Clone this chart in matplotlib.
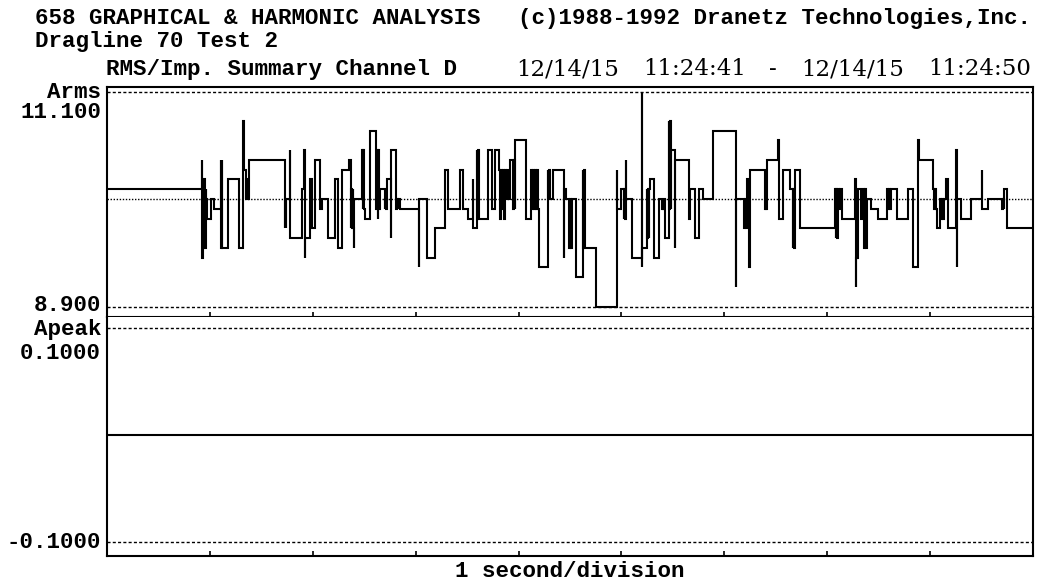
import matplotlib
matplotlib.use('Agg')
import matplotlib.pyplot as plt

W, H = 1037, 582

# ---------------- data ----------------
# RMS current (Arms): start time of each step (s) and its value
rms_t = [0.000, 0.919, 0.924, 0.929, 0.937, 0.945, 0.951, 0.958, 0.961, 0.968,
         1.010, 1.042, 1.104, 1.110, 1.115, 1.119, 1.172, 1.284, 1.323, 1.327,
         1.347, 1.352, 1.359, 1.366, 1.372, 1.379, 1.728, 1.733, 1.738, 1.743,
         1.777, 1.780, 1.896, 1.919, 1.922, 1.925, 1.971, 1.993, 2.026, 2.075,
         2.094, 2.149, 2.214, 2.246, 2.284, 2.350, 2.369, 2.376, 2.382, 2.388,
         2.395, 2.401, 2.405, 2.479, 2.485, 2.492, 2.498, 2.512, 2.560, 2.612,
         2.618, 2.624, 2.631, 2.638, 2.644, 2.650, 2.699, 2.706, 2.712, 2.725,
         2.757, 2.762, 2.813, 2.818, 2.825, 2.832, 2.845, 3.029, 3.032, 3.114,
         3.187, 3.284, 3.317, 3.427, 3.459, 3.508, 3.556, 3.560, 3.592, 3.599,
         3.605, 3.612, 3.702, 3.741, 3.774, 3.806, 3.816, 3.825, 3.835, 3.845,
         3.854, 3.864, 3.874, 3.883, 3.896, 3.916, 3.949, 3.954, 3.961, 3.968,
         4.068, 4.117, 4.126, 4.136, 4.146, 4.155, 4.170, 4.180, 4.189, 4.197,
         4.284, 4.291, 4.298, 4.304, 4.333, 4.437, 4.440, 4.463, 4.495, 4.502,
         4.508, 4.515, 4.560, 4.624, 4.631, 4.638, 4.644, 4.754, 4.954, 4.958,
         4.997, 5.022, 5.029, 5.036, 5.046, 5.049, 5.100, 5.197, 5.201, 5.204,
         5.246, 5.252, 5.259, 5.265, 5.272, 5.279, 5.314, 5.362, 5.395, 5.401,
         5.408, 5.415, 5.420, 5.427, 5.459, 5.466, 5.473, 5.479, 5.485, 5.518,
         5.521, 5.660, 5.663, 5.718, 5.750, 5.796, 5.886, 6.114, 6.117, 6.194,
         6.201, 6.207, 6.217, 6.243, 6.246, 6.395, 6.401, 6.408, 6.411, 6.524,
         6.527, 6.566, 6.638, 6.663, 6.670, 6.677, 6.683, 6.686, 6.738, 7.078,
         7.084, 7.090, 7.094, 7.107, 7.117, 7.126, 7.139, 7.272, 7.275, 7.278,
         7.285, 7.291, 7.298, 7.327, 7.350, 7.359, 7.369, 7.379, 7.391, 7.424,
         7.498, 7.585, 7.592, 7.602, 7.612, 7.618, 7.683, 7.789, 7.835, 7.886,
         7.890, 8.029, 8.039, 8.049, 8.058, 8.065, 8.097, 8.107, 8.117, 8.126,
         8.136, 8.152, 8.178, 8.255, 8.259, 8.262, 8.304, 8.395, 8.502, 8.505,
         8.566, 8.702, 8.709, 8.715, 8.718, 8.750]
rms_v = [10.1, 10.4, 9.4, 10.2, 9.5, 10.2, 9.5, 10.1, 10.0, 9.8,
         10.0, 9.9, 10.4, 9.5, 10.4, 9.5, 10.2, 9.5, 10.8, 10.3,
         10.0, 10.2, 10.0, 10.2, 10.0, 10.4, 9.7, 10.0, 9.7, 10.0,
         10.5, 9.6, 10.1, 10.5, 9.4, 9.6, 10.2, 9.7, 10.4, 9.9,
         10.0, 9.6, 10.2, 9.5, 10.3, 10.4, 9.7, 10.1, 9.7, 10.1,
         9.7, 9.5, 10.0, 10.5, 9.9, 10.5, 9.9, 9.8, 10.7, 10.5,
         9.9, 10.5, 9.8, 10.5, 9.9, 10.1, 9.9, 10.0, 9.9, 10.2,
         9.6, 10.5, 9.9, 10.0, 9.9, 10.0, 9.9, 9.3, 10.0, 9.4,
         9.7, 10.3, 9.9, 10.3, 9.9, 9.8, 10.2, 9.7, 10.5, 9.8,
         10.5, 9.8, 10.5, 9.9, 10.5, 10.3, 9.8, 10.3, 9.9, 10.3,
         9.8, 10.3, 10.0, 10.3, 10.0, 10.4, 9.9, 10.4, 9.9, 10.6,
         9.8, 10.3, 9.9, 10.3, 9.9, 10.3, 9.9, 10.3, 9.9, 9.3,
         10.3, 10.0, 10.3, 10.0, 10.3, 9.4, 10.1, 10.0, 9.5, 10.0,
         9.5, 10.0, 9.2, 10.3, 9.5, 10.3, 9.5, 8.9, 10.3, 9.9,
         10.1, 9.8, 10.1, 9.8, 10.4, 10.0, 9.4, 11.1, 9.3, 9.5,
         10.1, 9.6, 10.1, 9.6, 10.1, 10.2, 9.4, 10.0, 9.9, 10.0,
         9.9, 10.0, 9.9, 9.6, 10.8, 9.9, 10.8, 9.9, 10.5, 9.5,
         10.4, 9.8, 10.1, 9.6, 10.1, 10.0, 10.7, 9.1, 10.0, 9.7,
         10.0, 9.7, 10.2, 9.3, 10.3, 9.9, 10.3, 9.9, 10.4, 10.6,
         9.8, 10.3, 10.1, 9.5, 10.1, 9.5, 10.1, 10.3, 9.7, 10.1,
         9.6, 10.1, 9.6, 10.1, 9.9, 10.1, 9.8, 10.2, 9.1, 9.4,
         10.1, 9.4, 10.1, 9.8, 10.1, 9.5, 10.1, 9.5, 10.0, 9.9,
         9.8, 10.1, 9.9, 10.1, 9.9, 10.1, 9.8, 10.1, 9.3, 10.6,
         10.4, 10.1, 9.9, 10.1, 9.9, 9.7, 10.0, 9.8, 10.0, 9.8,
         10.0, 10.2, 9.7, 10.5, 9.3, 10.0, 9.8, 10.0, 10.3, 9.9,
         10.0, 9.9, 10.0, 9.9, 10.1, 9.7]
t_end = 9.0

# Peak current (Apeak): flat at zero for the whole window
apeak_t = [0.0, 9.0]
apeak_v = [0.0, 0.0]

rms_low, rms_mid, rms_high = 8.900, 10.0, 11.100
apeak_low, apeak_high = -0.1000, 0.1000
tick_secs = [1, 2, 3, 4, 5, 6, 7, 8]

title1 = "658 GRAPHICAL & HARMONIC ANALYSIS"
title1b = "(c)1988-1992 Dranetz Technologies,Inc."
title2 = "Dragline 70 Test 2"
title3 = "RMS/Imp. Summary Channel D"
start_date, start_time = "12/14/15", "11:24:41"
end_date, end_time = "12/14/15", "11:24:50"
xlabel = "1 second/division"

# ---------------- layout ----------------
FONT = dict(family=['Liberation Mono', 'DejaVu Sans Mono'], weight='bold', size=16.2, color='black')
DFONT = dict(family=['DejaVu Serif'], weight='normal', size=16.5, color='black')


def fx(px):
    return px / W


def fy(py):
    return 1 - py / H


fig = plt.figure(figsize=(W / 100, H / 100), dpi=100)
fig.patch.set_facecolor('white')

L, R = 107, 1033
TOP, SEP, BOT = 87, 317, 556
ax1 = fig.add_axes([fx(L), fy(SEP), fx(R) - fx(L), fy(TOP) - fy(SEP)])
ax2 = fig.add_axes([fx(L), fy(BOT), fx(R) - fx(L), fy(SEP) - fy(BOT)])

# y scales: 11.1 line ~4.5px below top, 8.9 line ~10.5px above separator
span1 = rms_high - rms_low
pxu1 = 215 / span1
ax1.set_ylim(rms_low - 10.5 / pxu1, rms_high + 4.5 / pxu1)
span2 = apeak_high - apeak_low
pxu2 = 214.5 / span2
ax2.set_ylim(apeak_low - 14 / pxu2, apeak_high + 10.5 / pxu2)

for ax in (ax1, ax2):
    ax.set_xlim(0, t_end)
    ax.set_xticks(tick_secs)
    ax.set_xticklabels([])
    ax.set_yticks([])
    ax.tick_params(axis='x', direction='in', length=3.5, width=1.2, bottom=True, top=False)
    for s in ax.spines.values():
        s.set_linewidth(1.5)
        s.set_color('black')
    ax.set_facecolor('white')
ax2.spines['top'].set_visible(False)

# reference lines
for yv in (rms_low, rms_high):
    ax1.axhline(yv, color='black', lw=1.0, ls=(0, (2.2, 1.6)))
ax1.axhline(rms_mid, color='black', lw=1.0, ls=(0, (1, 1.2)))
for yv in (apeak_low, apeak_high):
    ax2.axhline(yv, color='black', lw=1.0, ls=(0, (2.2, 1.6)))

# traces
ax1.step(rms_t + [t_end], rms_v + [rms_v[-1]], where='post', color='black', lw=1.5,
         solid_joinstyle='miter')
ax2.step(apeak_t, apeak_v, where='post', color='black', lw=1.5)

# texts
fig.text(fx(35), fy(24), title1, ha='left', va='baseline', **FONT)
fig.text(fx(1031), fy(24), title1b, ha='right', va='baseline', **FONT)
fig.text(fx(35), fy(47), title2, ha='left', va='baseline', **FONT)
fig.text(fx(106), fy(75), title3, ha='left', va='baseline', **FONT)

fig.text(fx(568), fy(75), start_date, ha='center', va='baseline', **DFONT)
fig.text(fx(695), fy(75), start_time, ha='center', va='baseline', **DFONT)
fig.text(fx(773), fy(75), "-", ha='center', va='baseline', **DFONT)
fig.text(fx(853), fy(75), end_date, ha='center', va='baseline', **DFONT)
fig.text(fx(980), fy(75), end_time, ha='center', va='baseline', **DFONT)

fig.text(fx(101), fy(98), "Arms", ha='right', va='baseline', **FONT)
fig.text(fx(101), fy(118), f"{rms_high:.3f}", ha='right', va='baseline', **FONT)
fig.text(fx(101), fy(311), f"{rms_low:.3f}", ha='right', va='baseline', **FONT)
fig.text(fx(101), fy(335), "Apeak", ha='right', va='baseline', **FONT)
fig.text(fx(101), fy(359), f"{apeak_high:.4f}", ha='right', va='baseline', **FONT)
fig.text(fx(101), fy(548), f"{apeak_low:.4f}", ha='right', va='baseline', **FONT)
fig.text(fx(570), fy(577), xlabel, ha='center', va='baseline', **FONT)

fig.savefig('out.png', dpi=100, facecolor='white')
